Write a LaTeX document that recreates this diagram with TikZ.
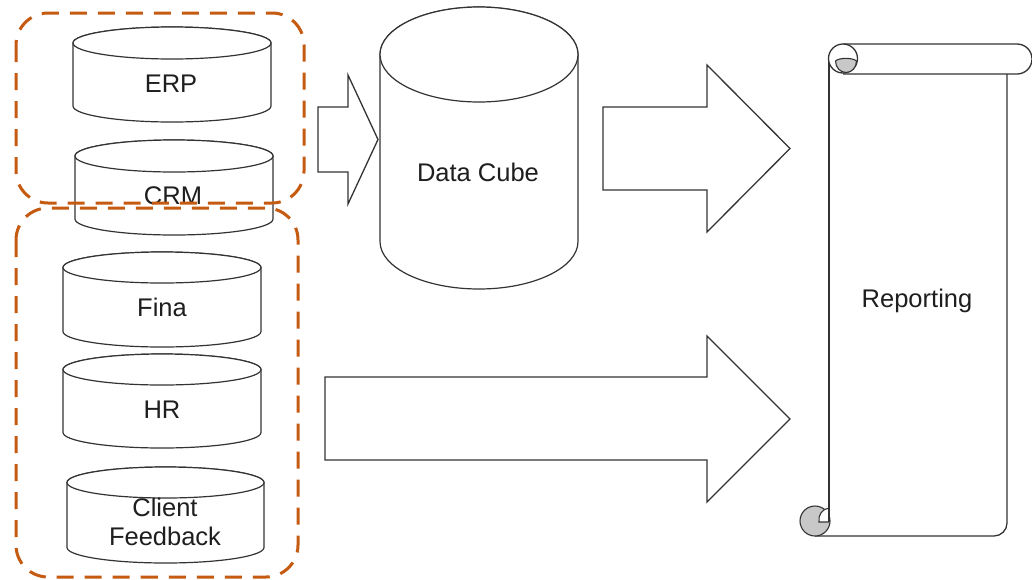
\documentclass[tikz,border=0pt]{standalone}
\usepackage{fontspec}
\setmainfont{Liberation Sans}
\definecolor{grp}{HTML}{C55A11}
\definecolor{ink}{HTML}{333333}
\definecolor{txt}{HTML}{1E1E1E}
\definecolor{curl}{HTML}{C8C8C8}

% database cylinder: left x, right x, top y, bottom y, ellipse half-height
\newcommand\dbcyl[5]{%
  \draw[cyl] (#1,{#3+#5}) -- (#1,{#4-#5})
     arc[start angle=180, end angle=0, x radius={(#2-#1)/2}, y radius=#5]
     -- (#2,{#3+#5})
     arc[start angle=360, end angle=180, x radius={(#2-#1)/2}, y radius=#5] -- cycle;
  \draw[cyl] ({(#1+#2)/2},{#3+#5}) ellipse[x radius={(#2-#1)/2}, y radius=#5];
}

\begin{document}
\begin{tikzpicture}[x=1pt,y=-1pt,
  cyl/.style={draw=ink, line width=1.2pt, fill=white},
  lbl/.style={font=\fontsize{25.5}{29}\selectfont, text=txt, align=center, inner sep=0pt, anchor=base},
  blockarrow/.style={draw=ink, line width=1.3pt, fill=white, line join=miter},
  group/.style={draw=grp, line width=3pt, dash pattern=on 17pt off 11pt, rounded corners=32pt},
  scrolline/.style={draw=ink, line width=1.3pt},
  curlfill/.style={draw=ink, line width=1.1pt, fill=curl}]

\fill[white] (0,0) rectangle (1032,579);
\useasboundingbox (0,0) rectangle (1032,579);

% source databases
\dbcyl{73}{271}{27}{122}{16}
\dbcyl{75}{273}{140}{235}{16}
\dbcyl{63}{261}{252}{347}{15.5}
\dbcyl{63}{261}{354}{448}{15.5}
\dbcyl{67}{264}{467}{563}{15.5}

\node[lbl] (erp)  at (171,92.5) {ERP};
\node[lbl] (crm)  at (173,204) {CRM};
\node[lbl] (fina) at (162,316) {Fina};
\node[lbl] (hr)   at (162,418) {HR};
\node[lbl] (cf)   at (165,545) {Client\\Feedback};

% data cube
\dbcyl{380}{578}{7}{289}{47.5}
\node[lbl] (cube) at (478,181) {Data Cube};

% block arrows
\draw[blockarrow] (318,107) -- (348,107) -- (348,75) -- (378,139.5) -- (348,204) -- (348,172) -- (318,172) -- cycle;
\draw[blockarrow] (603,107) -- (707,107) -- (707,65) -- (790,148.5) -- (707,232) -- (707,190) -- (603,190) -- cycle;
\draw[blockarrow] (325,377) -- (707,377) -- (707,336) -- (790,419) -- (707,502) -- (707,460) -- (325,460) -- cycle;

% reporting scroll: sheet
\draw[scrolline] (815,536) -- (994,536) arc[start angle=90, end angle=0, radius=13] -- (1007,74);
\draw[scrolline] (829,59) -- (829,521);
% top roll
\draw[scrolline, fill=white] (843,44) -- (1017,44) arc[start angle=270, end angle=450, radius=15] -- (843,74);
\draw[scrolline, fill=white] (843,58.5) circle[radius=14.5];
\draw[curlfill] (835.5,61) arc[start angle=180, end angle=0, x radius=10.5, y radius=11.5]
   .. controls (853,57.5) and (839,57.5) .. (835.5,61) -- cycle;
% bottom curl
\draw[curlfill] (815,521) circle[radius=15];
\draw[scrolline, fill=white, line width=1.1pt] (829,522) -- (819,522) .. controls (818,515) and (822,509) .. (829,508);
\draw[scrolline] (829,505) -- (829,522);
\node[lbl] (rep) at (917,307) {Reporting};

% source groups
\draw[group] (16,13) rectangle (304,203);
\draw[group] (16,208) rectangle (298,577);

\end{tikzpicture}
\end{document}
